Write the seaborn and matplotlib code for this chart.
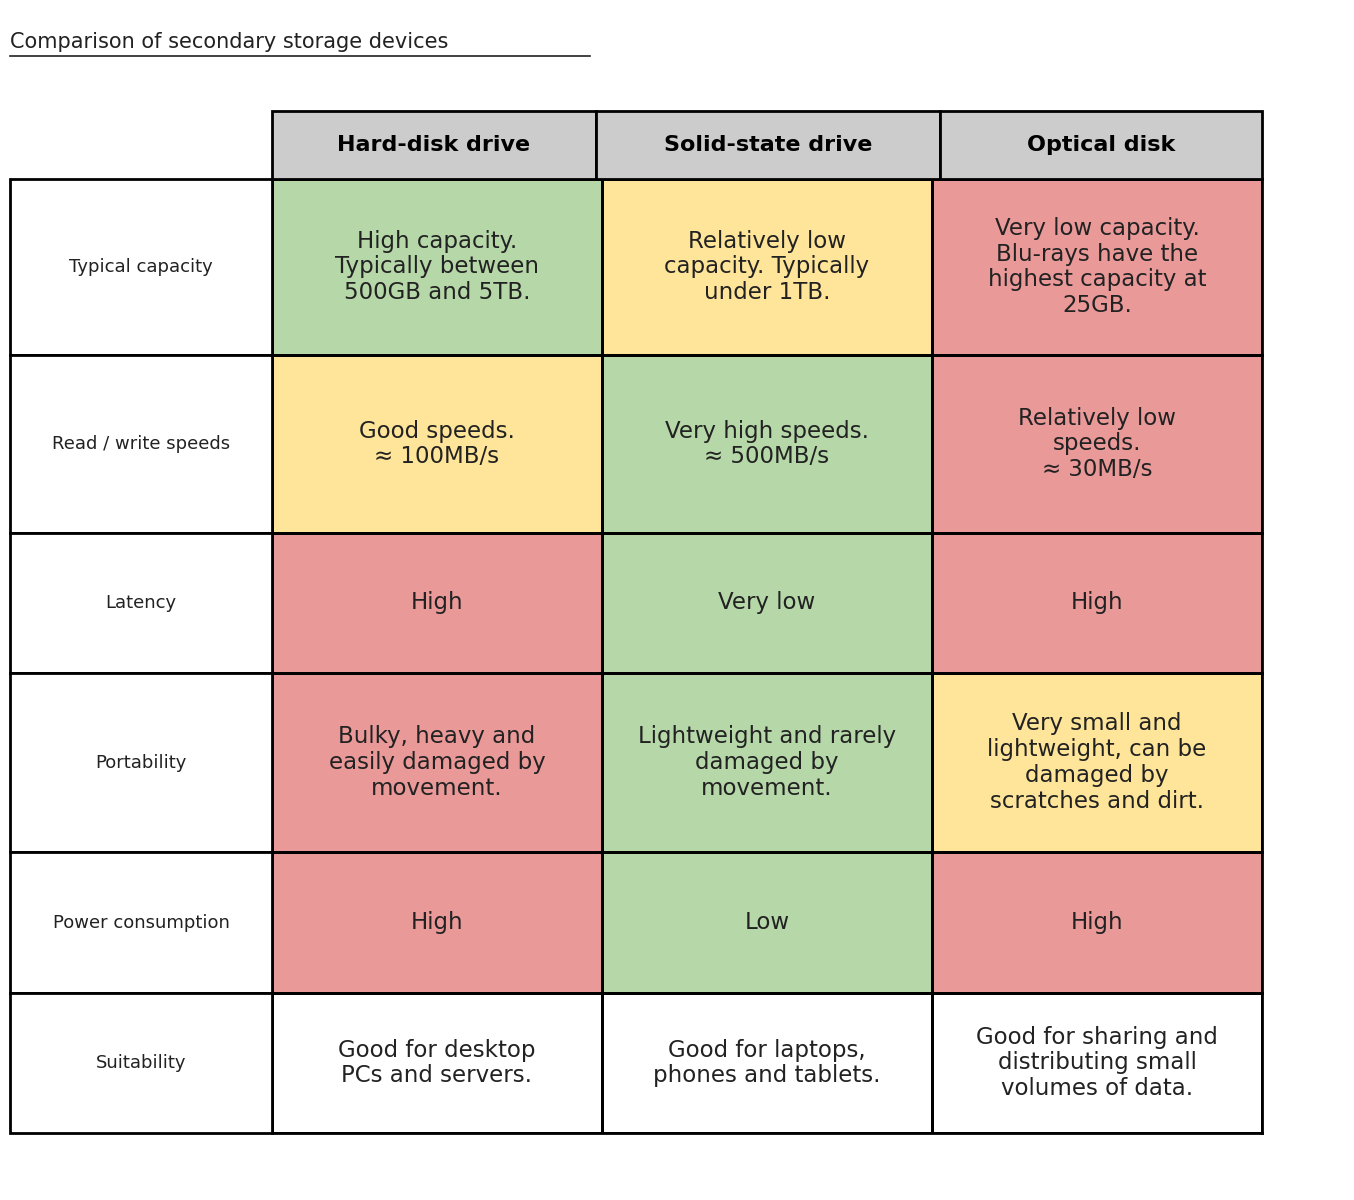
import matplotlib
matplotlib.use("Agg")
import matplotlib.pyplot as plt
import numpy as np
import seaborn as sns
from matplotlib.colors import ListedColormap
from matplotlib.patches import Rectangle

title = "Comparison of secondary storage devices"
devices = ["Hard-disk drive", "Solid-state drive", "Optical disk"]
features = ["Typical capacity", "Read / write speeds", "Latency", "Portability",
            "Power consumption", "Suitability"]
# rating: 0 = neutral (white), 1 = poor (red), 2 = fair (yellow), 3 = good (green)
hdd_rating = [3, 2, 1, 1, 1, 0]
ssd_rating = [2, 3, 3, 3, 3, 0]
optical_rating = [1, 1, 1, 2, 1, 0]
hdd_text = ["High capacity.\nTypically between\n500GB and 5TB.", "Good speeds.\n≈ 100MB/s", "High",
            "Bulky, heavy and\neasily damaged by\nmovement.", "High", "Good for desktop\nPCs and servers."]
ssd_text = ["Relatively low\ncapacity. Typically\nunder 1TB.", "Very high speeds.\n≈ 500MB/s", "Very low",
            "Lightweight and rarely\ndamaged by\nmovement.", "Low", "Good for laptops,\nphones and tablets."]
optical_text = ["Very low capacity.\nBlu-rays have the\nhighest capacity at\n25GB.", "Relatively low\nspeeds.\n≈ 30MB/s",
                "High", "Very small and\nlightweight, can be\ndamaged by\nscratches and dirt.", "High",
                "Good for sharing and\ndistributing small\nvolumes of data."]

W, H = 1354, 1200
fig = plt.figure(figsize=(W / 100, H / 100), dpi=100)
cmap = ListedColormap(["#ffffff", "#ea9999", "#ffe599", "#b6d7a8"])

col_x = [10, 272, 596, 940, 1262]
row_y = [111, 179, 355, 533, 673, 852, 993, 1133]

def fx(px): return px / W
def fy(py): return 1 - py / H

# title
fig.text(fx(10), fy(42), title, fontsize=15, va="center", ha="left",
         family="DejaVu Sans", color="#222222").set_text(title)
fig.add_artist(plt.Line2D([fx(10), fx(590)], [fy(56), fy(56)], color="#222222", lw=1.2))

# header
for j, d in enumerate(devices):
    fig.add_artist(Rectangle((fx(col_x[j + 1]), fy(row_y[1])), fx(col_x[j + 2] - col_x[j + 1]),
                             (row_y[1] - row_y[0]) / H, facecolor="#cccccc", edgecolor="black", lw=2))
    fig.text(fx((col_x[j + 1] + col_x[j + 2]) / 2), fy((row_y[0] + row_y[1]) / 2), d,
             ha="center", va="center", fontsize=16, fontweight="bold")

for i, feat in enumerate(features):
    y0, y1 = row_y[i + 1], row_y[i + 2]
    fig.add_artist(Rectangle((fx(col_x[0]), fy(y1)), fx(col_x[1] - col_x[0]), (y1 - y0) / H,
                             facecolor="white", edgecolor="black", lw=2))
    fig.text(fx((col_x[0] + col_x[1]) / 2), fy((y0 + y1) / 2), feat, ha="center", va="center",
             fontsize=13, color="#222222")
    ax = fig.add_axes([fx(col_x[1]), fy(y1), fx(col_x[4] - col_x[1]), (y1 - y0) / H])
    vals = np.array([[hdd_rating[i], ssd_rating[i], optical_rating[i]]])
    labels = np.array([[hdd_text[i], ssd_text[i], optical_text[i]]])
    sns.heatmap(vals, ax=ax, cmap=cmap, vmin=-0.5, vmax=3.5, cbar=False,
                annot=labels, fmt="", linewidths=2, linecolor="black",
                annot_kws={"fontsize": 16.5, "color": "#222222", "linespacing": 1.15},
                xticklabels=False, yticklabels=False)
    for s in ax.spines.values():
        s.set_visible(True)
        s.set_linewidth(2)

fig.savefig("out.png", dpi=100, facecolor="white")
